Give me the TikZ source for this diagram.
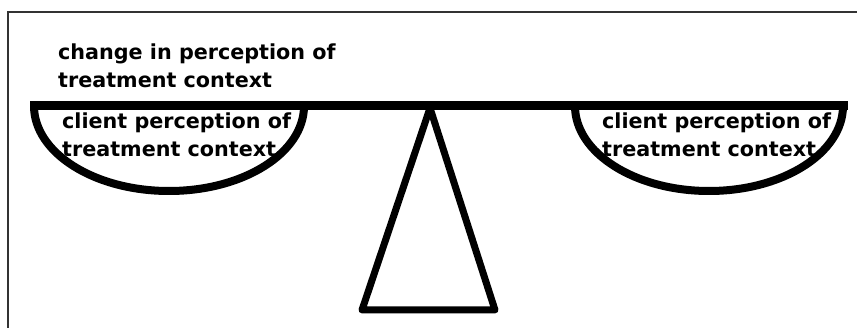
\documentclass[tikz,border=0pt]{standalone}
\usepackage{fontspec}
\setmainfont{DejaVu Sans}
\usetikzlibrary{positioning,calc}

\begin{document}
\begin{tikzpicture}[x=1pt,y=-1pt,
label/.style={align=left,anchor=base west,inner sep=0pt,font=\bfseries\fontsize{20.7}{28}\selectfont},
beam/.style={line width=9pt},
bowl/.style={line width=8pt},
stand/.style={line width=7pt,line join=round,line cap=round}]
\useasboundingbox (0,0) rectangle (857,328);
% frame (top and left only)
\draw[black!80,line width=1.2pt] (857,12) -- (8,12) -- (8,328);
% beam, pans and stand
\coordinate (beamL) at (30,106);
\coordinate (beamR) at (848,106);
\coordinate (pivot) at (430,108);
\coordinate (footL) at (362,310);
\coordinate (footR) at (495,310);
\draw[bowl] (34,106) arc[start angle=180,end angle=0,x radius=135,y radius=85];
\draw[bowl] (575,106) arc[start angle=180,end angle=0,x radius=134,y radius=85];
\draw[stand] (pivot) -- (footR) -- (footL) -- cycle;
\draw[beam] (beamL) -- (beamR);
% texts
\node[label](change) at (58,88){change in perception of\\treatment context};
\node[label](leftpan) at (62,157){client perception of\\treatment context};
\node[label](rightpan) at (602,157){client perception of\\treatment context};
\end{tikzpicture}
\end{document}
